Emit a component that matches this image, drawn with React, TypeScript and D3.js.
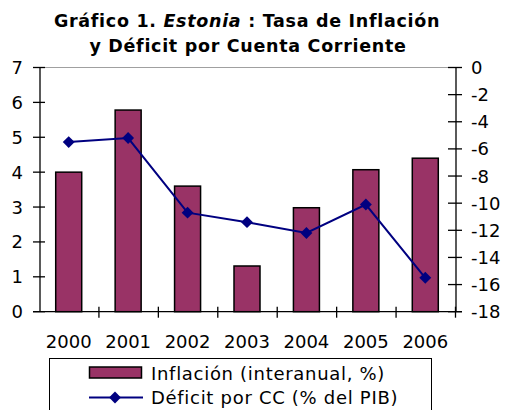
import React, { useEffect, useRef } from 'react';
import * as d3 from 'd3';

const years = ['2000', '2001', '2002', '2003', '2004', '2005', '2006'];
const inflacion = [4.0, 5.78, 3.6, 1.31, 2.98, 4.07, 4.4];
const deficit = [-5.5, -5.2, -10.7, -11.4, -12.2, -10.1, -15.5];
const leftTicks = [0, 1, 2, 3, 4, 5, 6, 7];
const rightTicks = [0, -2, -4, -6, -8, -10, -12, -14, -16, -18];

const App = () => {
  const ref = useRef<SVGSVGElement>(null);

  useEffect(() => {
    const svg = d3.select(ref.current);
    svg.selectAll('*').remove();

    const left = 40, right = 456, top = 67.5, bottom = 311.7;
    const font = 'DejaVu Sans, Verdana, sans-serif';

    const x = d3.scaleBand().domain(years).range([left, right]);
    const yL = d3.scaleLinear().domain([0, 7]).range([bottom, top]);
    const yR = d3.scaleLinear().domain([-18, 0]).range([bottom, top]);

    // titulo
    const title = svg.append('g')
      .attr('font-family', font)
      .attr('font-weight', 'bold')
      .attr('font-size', 17.5)
      .attr('letter-spacing', 0.7)
      .attr('text-anchor', 'middle')
      .attr('fill', '#000');
    const t1 = title.append('text').attr('x', 247).attr('y', 27);
    t1.append('tspan').text('Gráfico 1. ');
    t1.append('tspan').attr('font-style', 'italic').text('Estonia');
    t1.append('tspan').text(' : Tasa de Inflación');
    title.append('text').attr('x', 248).attr('y', 52).text('y Déficit por Cuenta Corriente');

    // borde superior
    svg.append('line')
      .attr('x1', left).attr('x2', right).attr('y1', top).attr('y2', top)
      .attr('stroke', '#a0a0a0').attr('stroke-width', 1);

    // barras
    const bw = 26;
    svg.append('g')
      .selectAll('rect')
      .data(years)
      .join('rect')
      .attr('x', (d) => x(d)! + x.bandwidth() / 2 - bw / 2 - 1)
      .attr('width', bw)
      .attr('y', (d, i) => yL(inflacion[i]))
      .attr('height', (d, i) => bottom - yL(inflacion[i]))
      .attr('fill', '#993366')
      .attr('stroke', '#000')
      .attr('stroke-width', 1.5);

    // ejes
    const axes = svg.append('g').attr('stroke', '#000').attr('stroke-width', 1.3);
    axes.append('line').attr('x1', left).attr('x2', left).attr('y1', top).attr('y2', bottom);
    axes.append('line').attr('x1', right).attr('x2', right).attr('y1', top).attr('y2', bottom);
    axes.append('line').attr('x1', left - 7).attr('x2', right + 6).attr('y1', bottom).attr('y2', bottom);
    axes.selectAll('.tl').data(leftTicks).join('line')
      .attr('x1', left - 7).attr('x2', left + 5)
      .attr('y1', (d) => yL(d)).attr('y2', (d) => yL(d));
    axes.selectAll('.tr').data(rightTicks).join('line')
      .attr('x1', right - 8).attr('x2', right + 6)
      .attr('y1', (d) => yR(d)).attr('y2', (d) => yR(d));
    axes.selectAll('.tx').data(years.slice(1).concat(['end'])).join('line')
      .attr('x1', (d, i) => left + x.step() * (i + 1) - 0.5)
      .attr('x2', (d, i) => left + x.step() * (i + 1) - 0.5)
      .attr('y1', bottom - 5).attr('y2', bottom + 6);

    const labels = svg.append('g')
      .attr('font-family', font)
      .attr('font-size', 18)
      .attr('fill', '#000');
    labels.selectAll('.ll').data(leftTicks).join('text')
      .attr('x', 23).attr('y', (d) => yL(d))
      .attr('dy', '0.36em')
      .attr('text-anchor', 'end')
      .text((d) => d);
    labels.selectAll('.lr').data(rightTicks).join('text')
      .attr('x', 471).attr('y', (d) => yR(d))
      .attr('dy', '0.36em')
      .text((d) => (d < 0 ? '-' + Math.abs(d) : d));
    labels.selectAll('.lx').data(years).join('text')
      .attr('x', (d) => x(d)! + x.bandwidth() / 2 - 1)
      .attr('y', 348)
      .attr('text-anchor', 'middle')
      .text((d) => d);

    // linea deficit
    const line = d3.line<number>()
      .x((d, i) => x(years[i])! + x.bandwidth() / 2 - 1)
      .y((d) => yR(d));
    svg.append('path')
      .datum(deficit)
      .attr('d', line)
      .attr('fill', 'none')
      .attr('stroke', '#000080')
      .attr('stroke-width', 2);
    const diamond = d3.symbol().type(d3.symbolDiamond2).size(90);
    svg.append('g')
      .selectAll('path')
      .data(deficit)
      .join('path')
      .attr('transform', (d, i) => `translate(${x(years[i])! + x.bandwidth() / 2 - 1},${yR(d)})`)
      .attr('d', diamond)
      .attr('fill', '#000080');

    // leyenda
    const lg = svg.append('g');
    lg.append('rect')
      .attr('x', 49.5).attr('y', 358.5).attr('width', 382).attr('height', 60)
      .attr('fill', '#fff').attr('stroke', '#000').attr('stroke-width', 1);
    lg.append('rect')
      .attr('x', 89.5).attr('y', 367).attr('width', 52).attr('height', 11)
      .attr('fill', '#993366').attr('stroke', '#000').attr('stroke-width', 1.5);
    lg.append('line')
      .attr('x1', 89).attr('x2', 143).attr('y1', 397.5).attr('y2', 397.5)
      .attr('stroke', '#000080').attr('stroke-width', 2);
    lg.append('path')
      .attr('transform', 'translate(115,397.5)')
      .attr('d', diamond)
      .attr('fill', '#000080');
    const lt = lg.append('g')
      .attr('font-family', font)
      .attr('font-size', 18)
      .attr('letter-spacing', 0.7)
      .attr('fill', '#000');
    lt.append('text').attr('x', 151).attr('y', 380).text('Inflación (interanual, %)');
    lt.append('text').attr('x', 151).attr('y', 404).text('Déficit por CC (% del PIB)');
  }, []);

  return (
    <svg
      ref={ref}
      width={505}
      height={410}
      style={{ position: 'absolute', left: 0, top: 0, background: '#fff' }}
    />
  );
};

export default App;
